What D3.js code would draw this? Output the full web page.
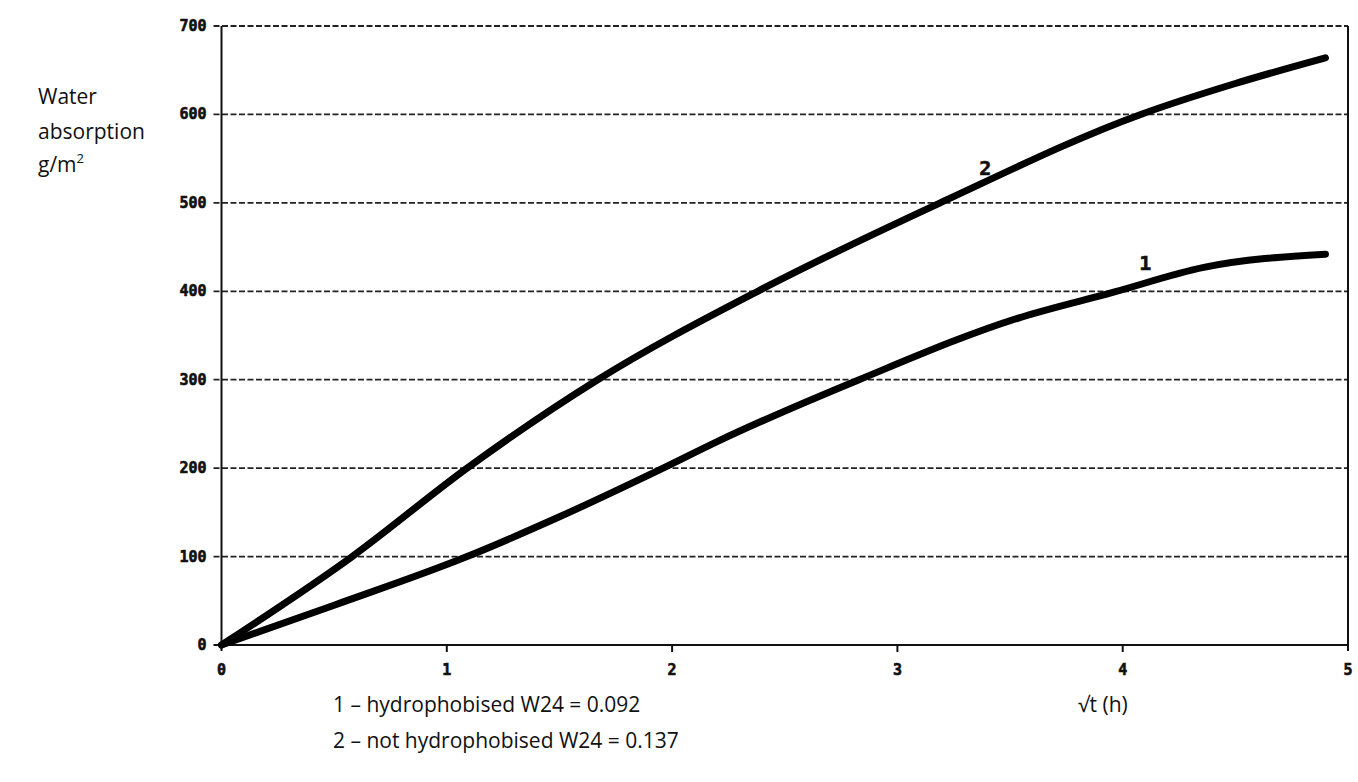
<!DOCTYPE html>
<html lang="en">
<head>
<meta charset="UTF-8">
<title>Water absorption</title>
<script src="https://d3js.org/d3.v7.min.js"></script>
<style>
  body { margin: 0; background: #fff; }
  .tick-label { font-family: "DejaVu Sans Mono", monospace; font-weight: bold; font-size: 15px; fill: #111; stroke: #111; stroke-width: 0.6px; }
  .caption { font-family: "Open Sans", sans-serif; font-size: 21px; fill: #111; }
</style>
</head>
<body>
<div id="chart"></div>
<script>
// values
const xTicks = [0, 1, 2, 3, 4, 5];
const yTicks = [0, 100, 200, 300, 400, 500, 600, 700];

// curve 1 - hydrophobised
const t1 = [0, 0.5, 1.09, 1.5, 1.96, 2.2, 2.83, 3.54, 3.96, 4.36, 4.9];
const w1 = [0, 45, 100, 145, 200, 230, 300, 370, 399, 427, 442];

// curve 2 - not hydrophobised
const t2 = [0, 0.58, 1.09, 1.67, 2.38, 3.19, 4.08, 4.5, 4.9];
const w2 = [0, 100, 200, 300, 400, 500, 600, 635, 664];

const seriesNames = ["1", "2"];
const legendLines = ["1 \u2013 hydrophobised W24 = 0.092", "2 \u2013 not hydrophobised W24 = 0.137"];

const width = 1358, height = 782;
const svg = d3.select("#chart").append("svg")
    .attr("width", width)
    .attr("height", height);

const x = d3.scaleLinear().domain([0, 5]).range([221.5, 1348]);
const y = d3.scaleLinear().domain([0, 700]).range([645, 26]);

// dashed horizontal grid
svg.append("g")
    .selectAll("line")
    .data(yTicks.filter(d => d > 0))
    .join("line")
    .attr("x1", x(0) - 8)
    .attr("x2", x(5))
    .attr("y1", d => y(d))
    .attr("y2", d => y(d))
    .attr("stroke", "#222")
    .attr("stroke-width", 1.8)
    .attr("stroke-dasharray", "6,2.5");

// frame: left, bottom, right
const frame = svg.append("g").attr("stroke", "#111").attr("stroke-width", 2);
frame.append("line").attr("x1", x(0)).attr("x2", x(0)).attr("y1", y(700)).attr("y2", y(0) + 6);
frame.append("line").attr("x1", x(0) - 8).attr("x2", x(5)).attr("y1", y(0)).attr("y2", y(0));
frame.append("line").attr("x1", x(5)).attr("x2", x(5)).attr("y1", y(700)).attr("y2", y(0) + 6);

// x ticks
svg.append("g")
    .selectAll("line")
    .data(xTicks.slice(1, -1))
    .join("line")
    .attr("x1", d => x(d)).attr("x2", d => x(d))
    .attr("y1", y(0)).attr("y2", y(0) + 7)
    .attr("stroke", "#111").attr("stroke-width", 2);

svg.append("g")
    .selectAll("text")
    .data(xTicks)
    .join("text")
    .attr("class", "tick-label")
    .attr("x", d => x(d))
    .attr("y", y(0) + 30)
    .attr("text-anchor", "middle")
    .text(d => d);

// y tick labels
svg.append("g")
    .selectAll("text")
    .data(yTicks)
    .join("text")
    .attr("class", "tick-label")
    .attr("x", x(0) - 15)
    .attr("y", d => y(d) + 5)
    .attr("text-anchor", "end")
    .text(d => d);

// the two curves
const line = d3.line()
    .x(d => x(d[0]))
    .y(d => y(d[1]))
    .curve(d3.curveMonotoneX);

const curves = [d3.zip(t1, w1), d3.zip(t2, w2)];
svg.append("g")
    .selectAll("path")
    .data(curves)
    .join("path")
    .attr("d", line)
    .attr("fill", "none")
    .attr("stroke", "#000")
    .attr("stroke-width", 7)
    .attr("stroke-linecap", "round");

// curve labels
svg.append("text").attr("class", "tick-label").style("font-size", "20px")
    .attr("x", x(4.1)).attr("y", y(424)).attr("text-anchor", "middle").text(seriesNames[0]);
svg.append("text").attr("class", "tick-label").style("font-size", "20px")
    .attr("x", x(3.39)).attr("y", y(532)).attr("text-anchor", "middle").text(seriesNames[1]);

// y-axis title
const yTitle = svg.append("text").attr("class", "caption");
yTitle.append("tspan").attr("x", 38).attr("y", 104).text("Water");
yTitle.append("tspan").attr("x", 38).attr("y", 139).text("absorption");
yTitle.append("tspan").attr("x", 38).attr("y", 172).text("g/m");
yTitle.append("tspan").attr("dy", -9).style("font-size", "13px").text("2");

// legend + x title
svg.append("g")
    .selectAll("text")
    .data(legendLines)
    .join("text")
    .attr("class", "caption")
    .attr("x", 333)
    .attr("y", (d, i) => 712 + i * 36)
    .text(d => d);

svg.append("text").attr("class", "caption")
    .attr("x", 1078).attr("y", 712)
    .text("\u221At (h)");
</script>
</body>
</html>
